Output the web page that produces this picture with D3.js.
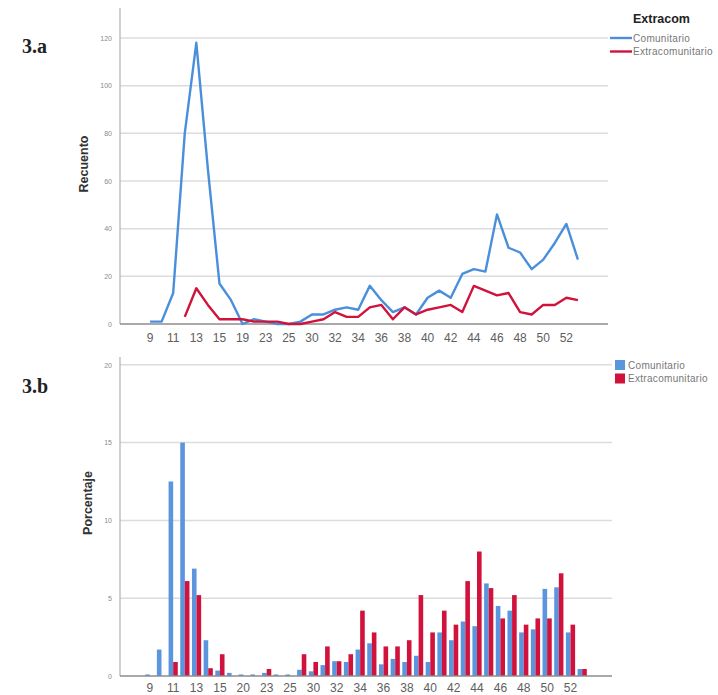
<!DOCTYPE html>
<html>
<head>
<meta charset="utf-8">
<script src="https://cdn.jsdelivr.net/npm/d3@7"></script>
<style>
  body { margin: 0; background: #fff; }
  svg { display: block; }
</style>
</head>
<body>
<script>
// categories (weeks) for each panel, labels shown every other one
var catsA = ['9','10','11','12','13','14','15','16','19','21','23','24','25','27',
  '30','31','32','33','34','35','36','37','38','39','40','41','42','43','44','45',
  '46','47','48','49','50','51','52','53'];
var catsB = ['9','10','11','12','13','14','15','16','20','22','23','24','25','27',
  '30','31','32','33','34','35','36','37','38','39','40','41','42','43','44','45',
  '46','47','48','49','50','51','52','53'];

// 3.a counts
var comunitarioRec = [1,1,13,80,118,65,17,10,0,2,1,0,0,1,4,4,6,7,6,16,10,5,7,4,11,14,11,21,23,22,46,32,30,23,27,34,42,27];
var extraRec = [null,null,null,3,15,8,2,2,2,1,1,1,0,0,1,2,5,3,3,7,8,2,7,4,6,7,8,5,16,14,12,13,5,4,8,8,11,10];

// 3.b percentages
var comunitarioPct = [0.1,1.7,12.5,15.0,6.9,2.3,0.35,0.2,0.1,0.1,0.2,0.1,0.1,0.4,0.3,0.7,0.95,0.9,1.7,2.1,0.75,1.1,0.9,1.3,0.9,2.8,2.3,3.5,3.2,5.95,4.5,4.2,2.8,3.0,5.6,5.7,2.8,0.45];
var extraPct = [0,0,0.9,6.1,5.2,0.5,1.4,0,0,0,0.45,0,0,1.4,0.9,1.9,0.95,1.4,4.2,2.8,1.9,1.9,2.3,5.2,2.8,4.2,3.3,6.1,8.0,5.65,3.7,5.2,3.3,3.7,3.7,6.6,3.3,0.45];

var recTicks = [0,20,40,60,80,100,120];
var pctTicks = [0,5,10,15,20];
var seriesNames = ['Comunitario','Extracomunitario'];

var blue = '#4a8fdc';
var barBlue = '#5b95de';
var red = '#d0123c';

var svg = d3.select('body').append('svg')
  .attr('width', 718)
  .attr('height', 695);

// ---------- helpers ----------
var drawGrid = function(y, ticks, x0, x1) {
  svg.append('g').selectAll('line')
    .data(ticks.filter(function(t) { return t > 0; }))
    .join('line')
    .attr('x1', x0).attr('x2', x1)
    .attr('y1', function(d) { return y(d); })
    .attr('y2', function(d) { return y(d); })
    .style('stroke', '#dcdcdc')
    .style('stroke-width', 1.5);
};

var drawYAxis = function(y, ticks, x) {
  var g = svg.append('g').attr('transform', 'translate(' + x + ',0)')
    .call(d3.axisLeft(y).tickValues(ticks).tickSize(0).tickPadding(8));
  g.select('.domain').remove();
  g.selectAll('text')
    .style('font-family', 'Liberation Sans, Arial, sans-serif')
    .style('font-size', '7px')
    .style('fill', '#8a8a8a');
  svg.append('line')
    .attr('x1', x).attr('x2', x)
    .attr('y1', y.range()[1]).attr('y2', y.range()[0])
    .style('stroke', '#b0b0b0')
    .style('stroke-width', 1.2);
};

var drawXAxis = function(x, cats, yPos, labelY) {
  svg.append('line')
    .attr('x1', x.range()[0]).attr('x2', x.range()[1])
    .attr('y1', yPos).attr('y2', yPos)
    .style('stroke', '#8c8c8c')
    .style('stroke-width', 1.5);
  svg.append('g').selectAll('text')
    .data(cats.filter(function(d, i) { return i % 2 === 0; }))
    .join('text')
    .attr('x', function(d) { return x(d); })
    .attr('y', labelY)
    .attr('text-anchor', 'middle')
    .style('font-family', 'Liberation Sans, Arial, sans-serif')
    .style('font-size', '12px')
    .style('fill', '#5e5e5e')
    .text(function(d) { return d; });
};

var axisTitle = function(label, x, y) {
  svg.append('text')
    .attr('transform', 'translate(' + x + ',' + y + ') rotate(-90)')
    .attr('text-anchor', 'middle')
    .style('font-family', 'Liberation Sans, Arial, sans-serif')
    .style('font-size', '12.5px')
    .style('font-weight', 'bold')
    .style('fill', '#333')
    .text(label);
};

// ---------- panel 3.a ----------
var xA = d3.scalePoint().domain(catsA).range([120, 608]).padding(2.6);
var yA = d3.scaleLinear().domain([0, 132.6]).range([324, 8]);

drawGrid(yA, recTicks, 120, 608);
drawYAxis(yA, recTicks, 120);
drawXAxis(xA, catsA, 324, 342);

var lineA = function(values) {
  return d3.line()
    .defined(function(d) { return d !== null; })
    .x(function(d, i) { return xA(catsA[i]); })
    .y(function(d) { return yA(d); })(values);
};

svg.append('path')
  .attr('d', lineA(comunitarioRec))
  .style('fill', 'none')
  .style('stroke', blue)
  .style('stroke-width', 2.4)
  .style('stroke-linejoin', 'round');

svg.append('path')
  .attr('d', lineA(extraRec))
  .style('fill', 'none')
  .style('stroke', red)
  .style('stroke-width', 2.4)
  .style('stroke-linejoin', 'round');

axisTitle('Recuento', 88, 164);

// legend a
svg.append('text')
  .attr('x', 633).attr('y', 23)
  .style('font-family', 'Liberation Sans, Arial, sans-serif')
  .style('font-size', '12.5px')
  .style('font-weight', 'bold')
  .style('fill', '#222')
  .text('Extracom');

var legA = svg.append('g').selectAll('g')
  .data(seriesNames)
  .join('g')
  .attr('transform', function(d, i) { return 'translate(610,' + (38 + i * 13.5) + ')'; });
legA.append('line')
  .attr('x1', 0).attr('x2', 22)
  .style('stroke', function(d, i) { return i === 0 ? blue : red; })
  .style('stroke-width', 2.4);
legA.append('text')
  .attr('x', 23).attr('y', 3.5)
  .style('font-family', 'Liberation Sans, Arial, sans-serif')
  .style('font-size', '10px')
  .style('letter-spacing', '0.3px')
  .style('fill', '#777')
  .text(function(d) { return d; });

// ---------- panel 3.b ----------
var xB = d3.scalePoint().domain(catsB).range([120, 612]).padding(2.55);
var yB = d3.scaleLinear().domain([0, 20.5]).range([676, 357]);
var bw = 4.6;

drawGrid(yB, pctTicks, 120, 612);
drawYAxis(yB, pctTicks, 120);

svg.append('g').selectAll('rect')
  .data(comunitarioPct)
  .join('rect')
  .attr('x', function(d, i) { return xB(catsB[i]) - bw; })
  .attr('y', function(d) { return yB(d); })
  .attr('width', bw)
  .attr('height', function(d) { return yB(0) - yB(d); })
  .style('fill', barBlue);

svg.append('g').selectAll('rect')
  .data(extraPct)
  .join('rect')
  .attr('x', function(d, i) { return xB(catsB[i]); })
  .attr('y', function(d) { return yB(d); })
  .attr('width', bw)
  .attr('height', function(d) { return yB(0) - yB(d); })
  .style('fill', red);

drawXAxis(xB, catsB, 676, 692);

axisTitle('Porcentaje', 92, 503);

// legend b
var legB = svg.append('g').selectAll('g')
  .data(seriesNames)
  .join('g')
  .attr('transform', function(d, i) { return 'translate(615,' + (360 + i * 13.5) + ')'; });
legB.append('rect')
  .attr('width', 10).attr('height', 10)
  .style('fill', function(d, i) { return i === 0 ? barBlue : red; });
legB.append('text')
  .attr('x', 13).attr('y', 8.5)
  .style('font-family', 'Liberation Sans, Arial, sans-serif')
  .style('font-size', '10px')
  .style('letter-spacing', '0.3px')
  .style('fill', '#777')
  .text(function(d) { return d; });

// panel tags
svg.append('text')
  .attr('x', 22).attr('y', 53)
  .style('font-family', 'Liberation Serif, Times New Roman, serif')
  .style('font-size', '20px')
  .style('font-weight', 'bold')
  .style('fill', '#222')
  .text('3.a');
svg.append('text')
  .attr('x', 22).attr('y', 393)
  .style('font-family', 'Liberation Serif, Times New Roman, serif')
  .style('font-size', '20px')
  .style('font-weight', 'bold')
  .style('fill', '#222')
  .text('3.b');
</script>
</body>
</html>
